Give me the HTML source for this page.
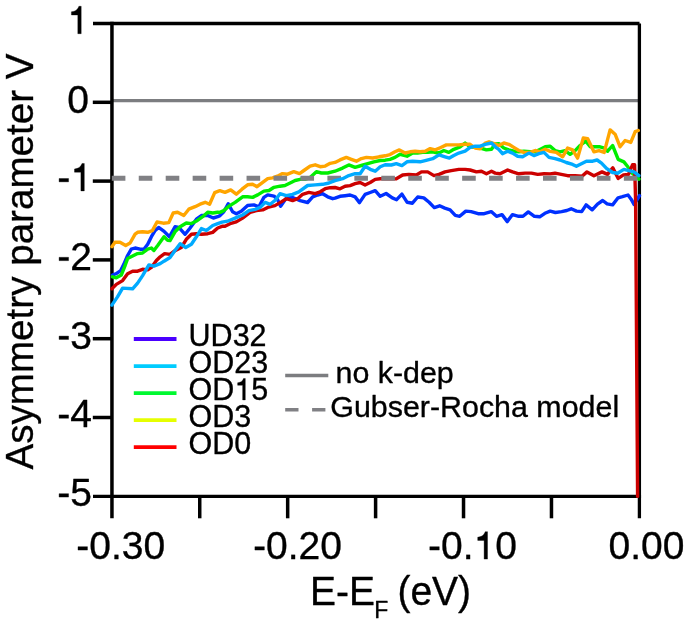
<!DOCTYPE html>
<html><head><meta charset="utf-8"><title>Asymmetry parameter</title>
<style>
html,body{margin:0;padding:0;background:#fff;}
body{width:685px;height:637px;overflow:hidden;font-family:"Liberation Sans", sans-serif;}
svg{display:block;will-change:transform;}
text,svg path.g,svg rect.g{stroke:#000;stroke-width:0.35;stroke-linejoin:round;vector-effect:non-scaling-stroke;}
tspan.h{fill:none;stroke:none;}
</style></head><body>
<svg width="685" height="637" viewBox="0 0 685 637">
<rect width="685" height="637" fill="#fff"/>
<line x1="111.8" y1="100.65" x2="639.4" y2="100.65" stroke="#7c7d80" stroke-width="3.4"/>
<g stroke="#000" fill="none" stroke-width="3.5">
<line x1="93" y1="23.55" x2="639.5" y2="23.55"/>
<line x1="111.95" y1="21.8" x2="111.95" y2="518.3"/>
<line x1="639.4" y1="23.6" x2="639.4" y2="518.3" stroke-width="3.3"/>
<line x1="93" y1="496.4" x2="641.05" y2="496.4" stroke-width="3.3"/>
<line x1="92.8" y1="102.30" x2="111.8" y2="102.30"/>
<line x1="92.8" y1="181.10" x2="111.8" y2="181.10"/>
<line x1="92.8" y1="259.90" x2="111.8" y2="259.90"/>
<line x1="92.8" y1="338.70" x2="111.8" y2="338.70"/>
<line x1="92.8" y1="417.50" x2="111.8" y2="417.50"/>
<line x1="199.73" y1="496.3" x2="199.73" y2="518.3"/>
<line x1="287.67" y1="496.3" x2="287.67" y2="518.3"/>
<line x1="375.60" y1="496.3" x2="375.60" y2="518.3"/>
<line x1="463.53" y1="496.3" x2="463.53" y2="518.3"/>
<line x1="551.47" y1="496.3" x2="551.47" y2="518.3"/>
</g>
<g fill="none" stroke-width="3.4" stroke-linejoin="round" stroke-linecap="round">
<polyline stroke="#0030ff" points="112.5,275.0 116.3,273.7 120.7,270.6 123.8,264.3 127.6,255.5 131.3,249.2 135.1,248.0 140.1,249.2 143.9,249.2 147.7,244.2 151.4,236.7 155.2,230.4 158.6,227.4 164.1,231.4 169.4,236.8 175.0,226.8 178.8,227.4 185.1,234.3 190.1,228.0 196.4,219.2 201.4,215.5 207.7,215.5 213.3,218.0 217.7,216.7 220.0,215.6 223.8,211.8 228.2,203.7 232.6,211.8 236.3,213.7 241.3,211.2 247.6,205.5 253.9,204.9 258.9,206.8 263.9,197.4 267.7,194.9 274.0,196.1 277.5,199.4 280.6,206.3 286.3,198.1 292.6,197.5 300.1,200.6 307.6,202.5 312.7,196.8 317.7,195.0 322.7,193.7 327.7,196.8 332.7,198.7 335.0,198.2 340.0,196.3 345.1,195.7 350.1,195.0 355.1,196.9 359.5,202.6 365.1,194.4 370.2,192.5 375.2,190.6 380.2,196.3 386.1,193.5 392.3,197.9 396.6,199.7 401.9,194.1 407.2,202.3 412.4,203.2 417.7,197.0 423.8,197.9 429.1,202.3 434.3,207.6 439.6,205.8 444.8,208.1 450.1,209.8 455.3,215.4 459.7,216.3 465.8,211.1 471.1,211.6 478.1,213.7 484.2,213.7 491.2,211.6 496.5,216.3 502.0,214.6 507.3,221.6 512.5,214.6 518.7,216.3 523.0,216.3 528.3,211.9 534.4,216.3 539.7,216.8 544.9,213.3 550.2,211.1 555.4,212.5 561.6,211.6 566.8,210.5 571.2,208.8 576.5,211.1 581.7,211.6 586.1,204.9 592.2,209.8 597.5,204.1 602.7,200.5 607.1,203.8 612.6,204.9 618.1,197.8 622.5,196.7 628.0,195.0 631.3,199.4 634.0,204.4 637.3,199.4 639.5,195.6"/>
<polyline stroke="#00ee00" points="112.5,276.8 116.3,277.8 121.3,275.0 125.1,265.5 127.6,258.6 132.6,256.1 137.6,253.6 142.6,253.0 147.7,249.2 151.4,248.0 153.9,250.5 157.7,245.5 164.0,236.7 167.7,240.4 170.0,240.6 175.0,231.8 180.1,226.8 186.3,223.0 191.4,223.6 196.4,221.1 202.7,216.7 207.7,212.3 212.7,213.0 217.7,212.3 220.0,212.4 223.8,210.6 228.8,206.2 235.1,202.4 242.6,196.8 247.6,196.8 252.6,197.4 257.7,194.9 263.9,191.1 269.0,190.5 274.0,187.3 280.0,186.2 285.0,185.5 290.1,183.0 295.1,180.5 300.1,179.3 305.1,179.3 310.1,177.4 316.4,171.7 321.4,173.0 327.7,173.0 335.0,171.2 342.6,168.1 348.8,164.9 355.1,167.4 361.4,165.5 367.7,163.7 373.9,161.8 380.2,160.5 385.2,160.2 390.0,159.3 395.0,157.4 400.1,154.3 407.0,156.2 412.6,153.0 417.6,153.0 422.7,152.4 427.7,152.4 432.7,151.8 437.7,153.0 440.0,152.4 443.8,150.5 448.8,152.4 453.8,149.3 460.1,146.8 465.1,143.0 470.1,146.8 475.1,147.4 480.2,148.0 486.4,149.9 491.5,149.3 495.2,143.9 498.8,143.6 503.8,148.0 508.8,149.9 513.8,151.2 518.8,151.8 523.9,151.2 530.1,151.8 535.2,151.8 541.4,148.7 545.2,146.8 550.2,146.2 555.0,150.6 560.0,151.8 565.1,150.6 570.1,154.3 575.1,150.6 580.1,145.5 585.8,141.2 590.2,146.8 596.4,146.8 600.0,146.8 604.4,148.1 607.6,151.2 612.6,145.5 618.2,159.4 623.9,161.9 628.0,167.0 631.3,172.5 635.7,176.3 639.0,179.1"/>
<polyline stroke="#ffa500" points="111.9,246.7 115.0,242.3 120.0,242.3 125.7,245.5 130.1,243.0 135.1,234.2 137.6,232.3 142.6,231.7 147.7,232.3 152.4,230.6 157.0,222.0 163.3,223.2 168.8,222.6 173.2,213.0 177.6,212.3 183.8,215.5 188.8,209.2 195.1,206.7 200.1,204.2 205.2,202.3 209.6,204.2 214.7,192.6 219.8,190.7 225.0,192.4 230.7,189.9 236.3,194.2 242.0,189.2 247.6,184.8 252.6,184.2 257.0,186.7 262.7,182.3 267.7,178.6 272.7,177.9 278.8,175.5 282.5,173.6 287.6,174.2 293.8,171.7 299.5,173.6 303.9,170.5 310.1,166.1 315.2,164.8 320.2,166.7 325.2,166.1 330.2,163.3 335.0,162.4 340.0,159.9 346.3,157.4 351.3,159.3 356.4,161.2 361.4,158.6 366.4,157.4 372.7,158.0 379.0,156.8 385.2,155.8 390.0,154.6 395.0,151.8 399.4,149.9 405.1,153.0 410.1,151.8 415.1,151.2 420.1,151.8 425.2,151.2 430.2,148.6 435.2,149.9 440.2,147.7 446.3,144.9 452.6,144.9 458.8,144.9 465.1,144.3 470.1,144.3 475.1,148.0 480.2,148.7 485.2,143.0 489.0,141.8 494.0,143.6 498.8,145.5 503.8,143.0 508.8,144.3 513.8,147.4 518.8,150.5 523.9,152.4 530.1,152.4 535.2,150.5 540.2,151.8 545.2,149.3 550.2,151.4 556.3,152.4 562.6,156.8 567.6,148.1 572.6,149.9 577.6,158.1 583.3,138.0 587.7,138.6 593.9,151.8 599.0,150.6 604.2,152.4 610.1,129.9 615.1,134.2 620.1,146.8 625.1,140.5 630.8,142.4 635.2,131.7 638.3,130.5"/>
<polyline stroke="#cc0000" points="111.9,288.8 116.3,284.4 122.6,280.6 127.6,273.7 132.6,271.2 137.6,271.2 142.6,269.3 147.7,269.9 151.4,267.4 156.4,260.5 160.2,256.8 164.6,253.6 170.0,254.4 175.0,250.6 181.3,247.5 186.3,239.3 191.4,234.3 196.4,233.7 201.4,234.3 207.7,233.7 212.7,232.4 217.7,228.0 222.7,226.1 225.0,226.3 230.0,223.7 236.3,221.9 242.6,218.1 250.1,212.4 256.4,210.6 262.7,209.9 267.7,207.4 272.7,206.2 275.0,205.6 281.3,201.9 286.3,198.7 292.6,200.6 297.6,198.7 302.6,194.3 308.9,192.4 315.2,193.7 320.2,191.8 325.2,188.7 330.2,187.7 335.0,187.5 340.0,188.8 345.1,186.3 350.1,185.6 355.1,183.7 360.1,182.5 365.1,185.0 370.2,182.5 375.2,179.4 380.2,178.7 388.0,178.9 396.3,178.8 402.6,175.0 408.8,174.4 416.4,175.0 421.4,171.9 427.7,171.9 434.0,175.6 439.0,174.4 445.0,171.9 451.3,170.6 458.8,169.4 465.1,169.4 470.1,170.0 476.4,171.9 481.4,171.3 486.4,173.8 491.5,171.3 495.2,173.1 500.0,173.8 507.6,170.0 512.6,171.9 518.8,173.8 525.1,173.1 531.4,173.1 537.7,174.4 544.0,173.8 550.2,173.9 555.0,173.2 561.3,174.4 567.6,175.7 575.1,175.7 582.0,176.3 587.0,171.9 593.9,175.7 602.0,171.9 607.5,174.4 612.8,167.8 618.2,178.4 623.5,174.9 628.5,174.4 632.5,164.8 634.6,164.8 635.6,200.4 637.6,496.4"/>
</g>
<line x1="111.8" y1="178.2" x2="639.4" y2="178.2" stroke="#808084" stroke-width="5" stroke-dasharray="13.6 13.35"/>
<g fill="none" stroke-width="3.4" stroke-linejoin="round" stroke-linecap="round">
<polyline stroke="#00aaff" points="111.9,305.1 117.5,296.9 122.6,288.1 132.6,288.8 137.6,283.1 142.6,275.6 148.9,264.9 153.9,266.2 160.2,263.7 164.0,261.2 170.0,257.5 175.0,250.6 180.1,243.7 185.7,247.5 191.4,244.3 196.4,236.8 201.4,228.6 206.4,230.5 212.7,225.5 217.7,223.6 222.0,222.2 227.5,221.2 235.1,218.1 242.6,215.0 248.9,210.6 255.1,209.3 260.2,207.4 265.2,202.4 270.2,204.3 275.2,200.2 280.0,193.7 286.3,195.6 292.6,194.3 298.8,191.8 307.6,185.5 315.2,184.9 322.7,184.3 329.0,183.0 335.0,180.6 342.6,178.7 348.8,175.6 355.1,173.7 360.1,173.7 365.1,166.2 370.2,169.3 375.2,171.2 380.2,166.8 385.2,164.7 391.3,165.0 396.3,163.7 401.9,165.6 407.0,161.8 412.6,161.2 420.1,161.8 425.2,160.6 432.7,158.7 439.0,154.9 445.0,156.8 449.4,158.1 453.8,155.6 458.8,153.1 465.1,151.2 470.1,147.4 475.1,146.2 480.2,146.2 485.2,144.3 491.5,143.0 495.2,146.8 498.8,149.3 502.5,153.7 507.6,151.2 512.6,153.1 517.6,156.2 522.6,156.8 528.9,153.1 533.9,155.6 538.9,153.7 544.0,152.4 549.0,157.4 555.0,158.7 560.0,160.0 566.3,162.5 572.6,164.4 576.4,166.3 581.4,163.7 586.4,161.2 592.7,161.2 597.1,160.0 601.5,163.1 606.5,168.4 612.6,172.5 617.6,173.2 623.9,169.4 628.9,170.6 633.9,171.9 638.9,175.7"/>
</g>
<g font-family='"Liberation Sans", sans-serif' fill='#000'>
<text x='67.20' y='33.70' font-size='39' ><tspan class='h'>1</tspan></text><path class='g' d='M359 0L359 703L300 703C285 660 255 610 200 585C170 572 140 565 108 562L108 480L272 480L272 0Z' transform='translate(67.20,33.70) scale(0.0390,-0.0390)'/>
<text x='67.20' y='112.50' font-size='39' >0</text>
<text x='57.30' y='190.90' font-size='39' ><tspan class='h'>-</tspan><tspan class='h'>1</tspan></text><rect class='g' x='59.09' y='178.50' width='9.48' height='3.35'/><path class='g' d='M359 0L359 703L300 703C285 660 255 610 200 585C170 572 140 565 108 562L108 480L272 480L272 0Z' transform='translate(70.29,190.90) scale(0.0390,-0.0390)'/>
<text x='57.30' y='269.70' font-size='39' ><tspan class='h'>-</tspan>2</text><rect class='g' x='59.09' y='257.30' width='9.48' height='3.35'/>
<text x='57.30' y='348.50' font-size='39' ><tspan class='h'>-</tspan>3</text><rect class='g' x='59.09' y='336.10' width='9.48' height='3.35'/>
<text x='57.30' y='427.30' font-size='39' ><tspan class='h'>-</tspan>4</text><rect class='g' x='59.09' y='414.90' width='9.48' height='3.35'/>
<text x='57.30' y='506.10' font-size='39' ><tspan class='h'>-</tspan>5</text><rect class='g' x='59.09' y='493.70' width='9.48' height='3.35'/>
<text x='76.20' y='559.10' font-size='39' ><tspan class='h'>-</tspan>0.30</text><rect class='g' x='77.99' y='546.70' width='9.48' height='3.35'/>
<text x='253.10' y='559.10' font-size='39' ><tspan class='h'>-</tspan>0.20</text><rect class='g' x='254.89' y='546.70' width='9.48' height='3.35'/>
<text x='428.00' y='559.10' font-size='39' ><tspan class='h'>-</tspan>0.<tspan class='h'>1</tspan>0</text><rect class='g' x='429.79' y='546.70' width='9.48' height='3.35'/><path class='g' d='M359 0L359 703L300 703C285 660 255 610 200 585C170 572 140 565 108 562L108 480L272 480L272 0Z' transform='translate(473.51,559.10) scale(0.0390,-0.0390)'/>
<text x='608.60' y='559.10' font-size='39' >0.00</text>
</g>
<text font-family='"Liberation Sans", sans-serif' font-size='39' textLength='416' lengthAdjust='spacingAndGlyphs' transform='translate(33.3,469.5) rotate(-90) scale(1,1.01)' fill='#000'>Asymmetry parameter V</text>
<text font-family='"Liberation Sans", sans-serif' font-size='39' x='310' y='0' transform='translate(0,605) scale(1,1.035)' fill='#000'>E-E<tspan font-size='23' dx='-0.8' dy='13'>F</tspan><tspan dx='-1.6' dy='-13'> (eV)</tspan></text>
<g font-family='"Liberation Sans", sans-serif' fill='#000'>
<line x1="133.8" y1="339.0" x2="176.5" y2="339.0" stroke="#4a00ff" stroke-width="3.8"/>
<text x='188.60' y='346.10' font-size='30.5' >UD32</text>
<line x1="133.8" y1="366.1" x2="176.5" y2="366.1" stroke="#00ccff" stroke-width="3.8"/>
<text x='188.60' y='373.00' font-size='30.5' >OD23</text>
<line x1="133.8" y1="393.1" x2="176.5" y2="393.1" stroke="#00f830" stroke-width="3.8"/>
<text x='188.60' y='399.90' font-size='30.5' >OD<tspan class='h'>1</tspan>5</text><path class='g' d='M359 0L359 703L300 703C285 660 255 610 200 585C170 572 140 565 108 562L108 480L272 480L272 0Z' transform='translate(234.35,399.90) scale(0.0305,-0.0305)'/>
<line x1="133.8" y1="420.1" x2="176.5" y2="420.1" stroke="#e6ff00" stroke-width="3.8"/>
<text x='188.60' y='426.80' font-size='30.5' >OD3</text>
<line x1="133.8" y1="447.2" x2="176.5" y2="447.2" stroke="#ff0000" stroke-width="3.8"/>
<text x='188.60' y='453.70' font-size='30.5' >OD0</text>
</g>
<g font-family='"Liberation Sans", sans-serif' font-size='30.4' fill='#000'>
<line x1="285.2" y1="375.5" x2="328.3" y2="375.5" stroke="#7c7d80" stroke-width="3.4"/>
<line x1="285.2" y1="409.7" x2="328.3" y2="409.7" stroke="#808084" stroke-width="3.6" stroke-dasharray="13.3 13.6"/>
<text x="335.5" y="382.8">no k-dep</text>
<text x="330.3" y="417.0">Gubser-Rocha model</text>
</g>
</svg>
</body></html>
